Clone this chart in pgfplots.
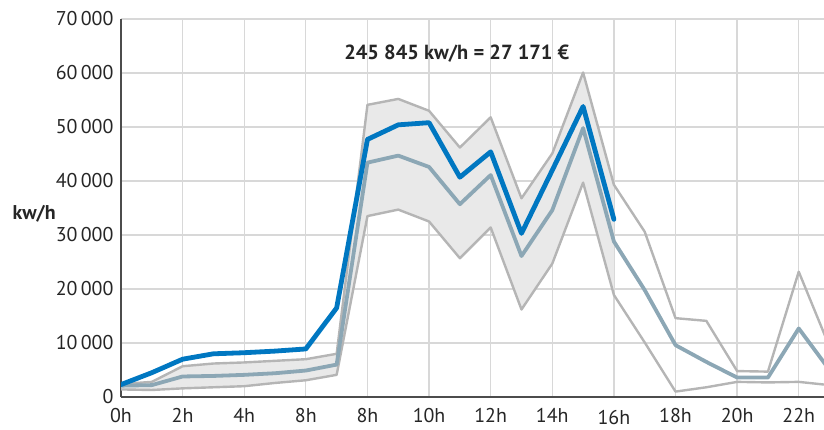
\documentclass[border=0pt]{standalone}
\usepackage{fontspec}
\setmainfont{PT Sans}
\usepackage{pgfplots}
\usepackage{pgfplotstable}
\pgfplotsset{compat=1.18}
\usepgfplotslibrary{fillbetween}
\definecolor{cblue}{HTML}{0077C1}
\definecolor{cavg}{HTML}{8CA7B5}
\definecolor{cband}{HTML}{B5B5B5}
\definecolor{cfill}{HTML}{E9E9E9}
\definecolor{cgrid}{HTML}{D8D8D8}

\pgfplotstableread{
h max min avg
0 2400 1400 2100
1 2800 1300 2200
2 5700 1600 3800
3 6200 1800 3900
4 6400 2000 4100
5 6700 2600 4400
6 7000 3100 4900
7 8000 4100 6000
8 54100 33500 43400
9 55200 34700 44700
10 53000 32500 42600
11 46200 25700 35700
12 51800 31400 41100
13 36800 16200 26100
14 45100 24700 34600
15 60100 39700 49800
16 39300 18900 28800
17 30600 10100 19800
18 14600 1000 9600
19 14100 1800 6500
20 4800 2800 3600
21 4700 2700 3600
22 23200 2800 12700
23 9300 2200 5000
}\rangetab

\pgfplotstableread{
h val
0 2300
1 4500
2 7000
3 8000
4 8200
5 8500
6 8900
7 16500
8 47700
9 50400
10 50800
11 40700
12 45400
13 30300
14 42000
15 53800
16 32900
}\daytab

\begin{document}
\begin{tikzpicture}
\begin{axis}[
  at={(0,0)}, anchor=south west,
  scale only axis, width=703bp, height=378bp,
  xmin=0, xmax=22.82, ymin=0, ymax=70000,
  scaled y ticks=false,
  axis lines=left,
  axis line style={-, line width=1.5bp, color=black!70},
  xtick={0,2,...,22},
  xticklabels={0h,2h,4h,8h,8h,10h,12h,14h,\raisebox{-0.1em}[\height]{16h},18h,20h,22h},
  ytick={0,10000,...,70000},
  yticklabels={0,10\,000,20\,000,30\,000,40\,000,50\,000,60\,000,70\,000},
  grid=major,
  major grid style={cgrid, line width=1.3bp},
  major tick length=0pt,
  tick label style={font=\fontsize{20}{22}\selectfont, text=black!85},
  xticklabel style={yshift=-8bp},
  yticklabel style={xshift=-4bp},
  clip=true,
  line join=round,
]
\addplot[name path=up, draw=none] table[x=h,y=max]{\rangetab};
\addplot[name path=lo, draw=none] table[x=h,y=min]{\rangetab};
\addplot[cfill] fill between[of=up and lo, soft clip={domain=0:16}];
\addplot[cband, line width=2.4bp] table[x=h,y=max]{\rangetab};
\addplot[cband, line width=2.4bp] table[x=h,y=min]{\rangetab};
\addplot[cavg, line width=3.8bp] table[x=h,y=avg]{\rangetab};
\addplot[cblue, line width=4.8bp, line cap=round] table[x=h,y=val]{\daytab};
\node[font=\bfseries\fontsize{20.5}{22}\selectfont, text=black!85] at (axis cs:10.9,63500) {245 845 kw/h = 27 171 €};
\end{axis}
\node[anchor=west, font=\bfseries\fontsize{20}{22}\selectfont, text=black!85] at (-112bp,183bp) {kw/h};
\pgfresetboundingbox
\path[use as bounding box] (-121bp,-33bp) rectangle (703bp,397bp);
\end{tikzpicture}
\end{document}
